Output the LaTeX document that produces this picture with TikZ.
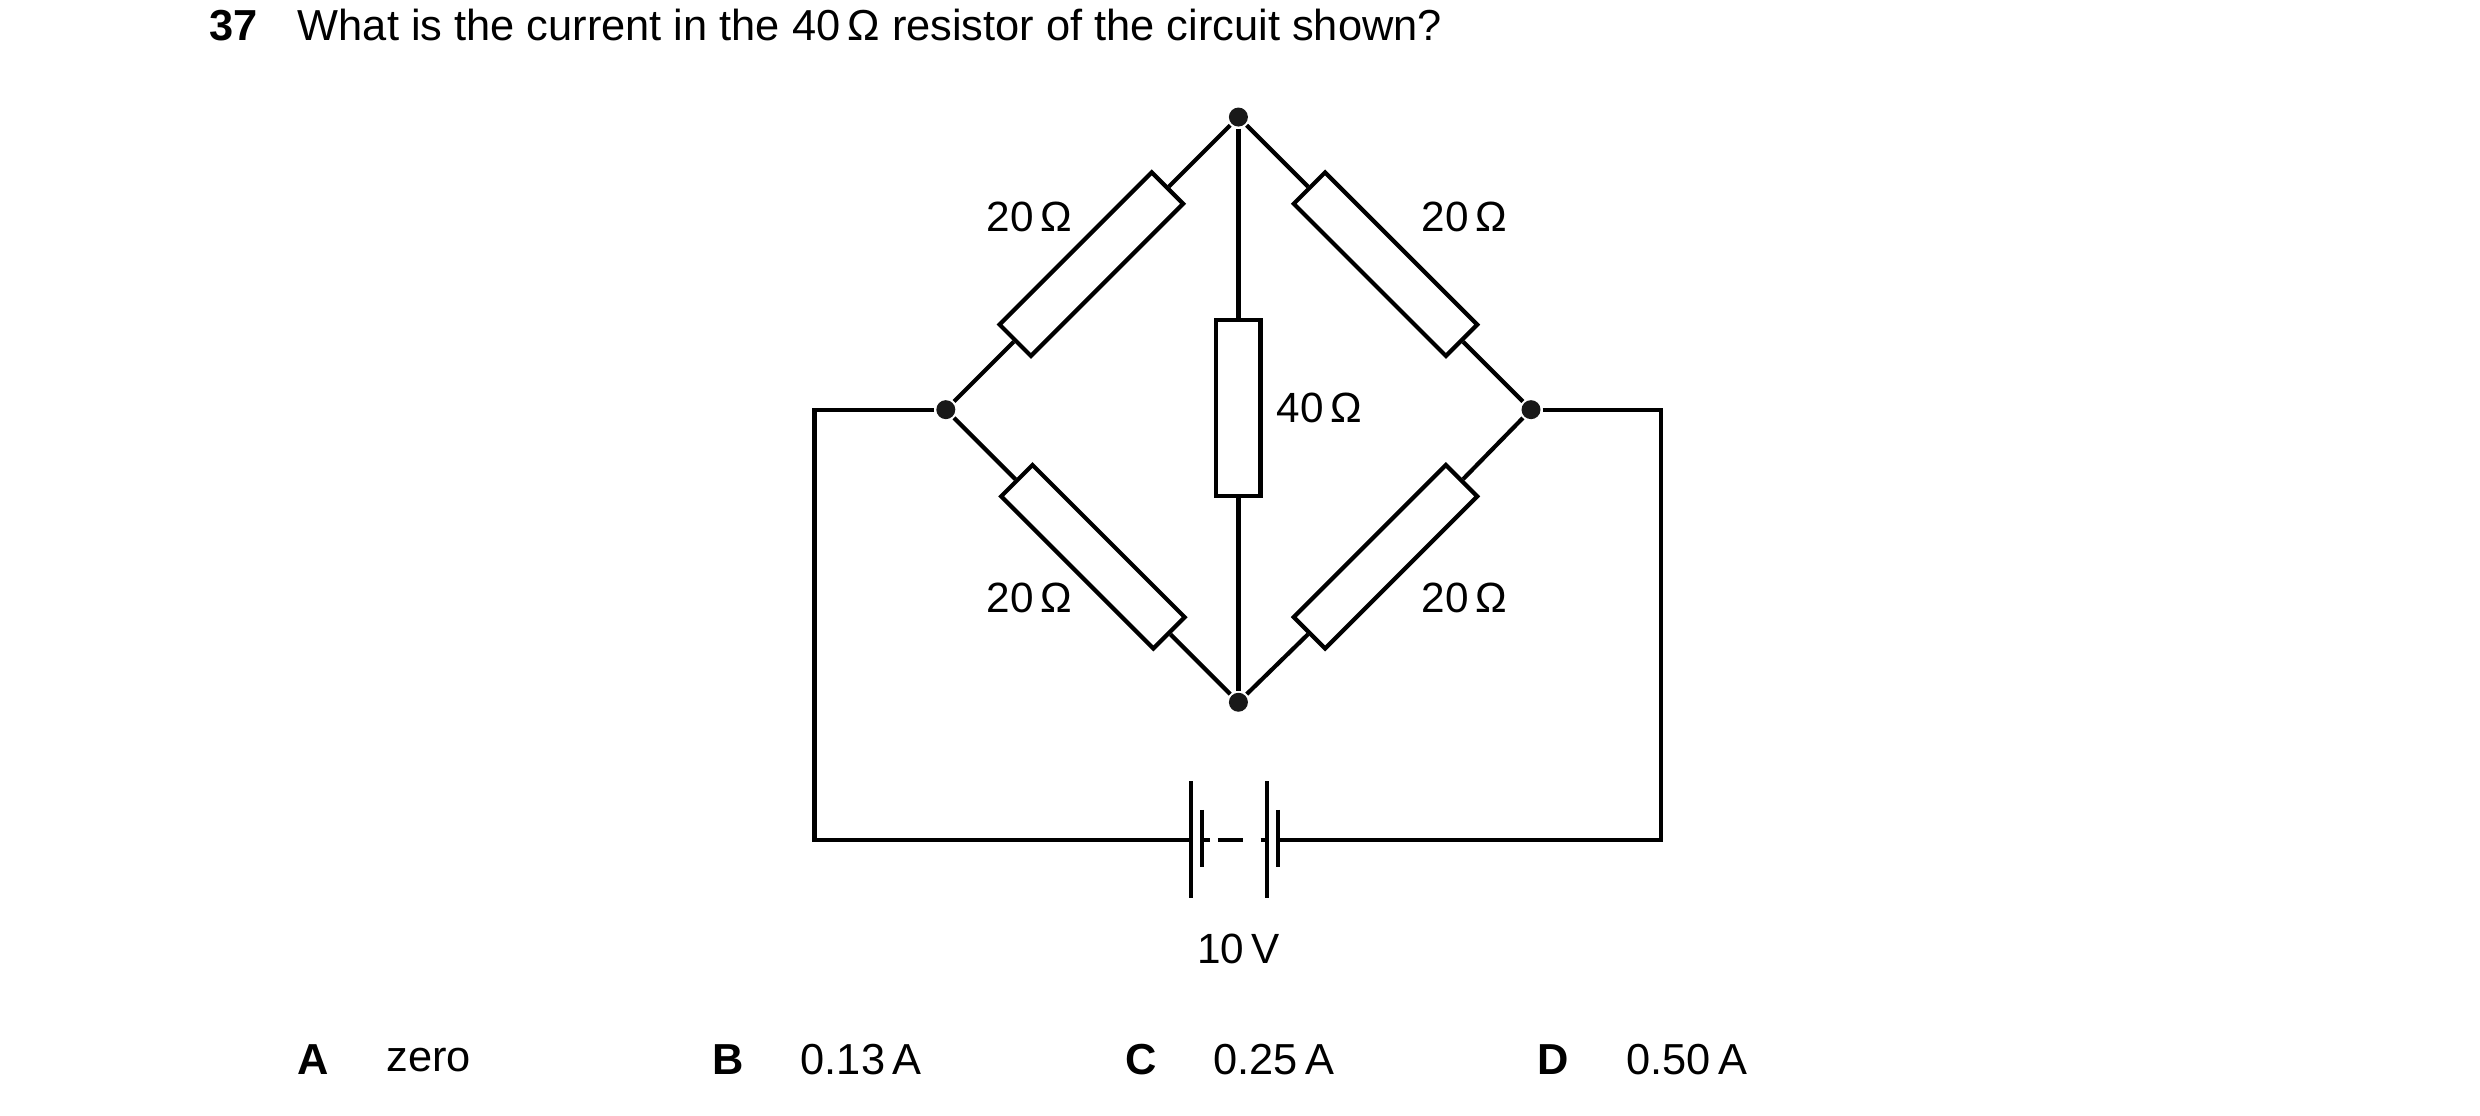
\documentclass[tikz,border=0pt]{standalone}
\usepackage{fontspec}
\setmainfont{Liberation Sans}
\begin{document}
\begin{tikzpicture}[x=0.01cm,y=-0.01cm,line width=0.75pt,
  res/.style={draw,fill=white,rectangle,minimum width=1.36cm,minimum height=0.28cm,inner sep=0pt},
  dot/.style={circle,fill=black!90,inner sep=0pt,minimum size=0.12cm},
  lab/.style={font=\fontsize{7.6pt}{9pt}\selectfont,inner sep=0pt},
  q/.style={font=\fontsize{7.8pt}{9pt}\selectfont,inner sep=0pt,anchor=west}]
\useasboundingbox (0,0) rectangle (1568,705);
\node[dot] (T) at (783,74) {};
\node[dot] (L) at (598,259) {};
\node[dot] (R) at (968,259) {};
\node[dot] (B) at (783,444) {};
\node[res,rotate=45] (r1) at (690,167) {};
\node[res,rotate=-45] (r2) at (876,167) {};
\node[res,rotate=-45] (r3) at (691,352) {};
\node[res,rotate=45] (r4) at (876,352) {};
\node[draw,fill=white,rectangle,minimum width=0.28cm,minimum height=1.11cm,inner sep=0pt] (r5) at (783,258) {};
\draw (L) -- (r1.west); \draw (r1.east) -- (T);
\draw (T) -- (r2.west); \draw (r2.east) -- (R);
\draw (L) -- (r3.west); \draw (r3.east) -- (B);
\draw (B) -- (r4.west); \draw (r4.east) -- (R);
\draw (T) -- (r5.north); \draw (r5.south) -- (B);
% battery
\coordinate (b1) at (753,531);
\coordinate (b4) at (808,531);
\draw (L) -- (515,259) -- (515,531) -- (b1);
\draw (R) -- (1050,259) -- (1050,531) -- (b4);
\draw (753,494) -- (753,568);
\draw (760,512) -- (760,548);
\draw (801,494) -- (801,568);
\draw (808,512) -- (808,548);
\draw (760,531) -- (765,531);
\draw[dash pattern=on 4.5 off 4.5] (770,531) -- (797,531);
\draw (797,531) -- (801,531);
% labels
\node[lab] at (651,137) {20\,Ω};
\node[lab] at (926,137) {20\,Ω};
\node[lab] at (651,378) {20\,Ω};
\node[lab] at (926,378) {20\,Ω};
\node[lab,anchor=west] at (806,258) {40\,Ω};
\node[lab] at (783,600) {10\,V};
\node[q] at (131,16) {\textbf{37}};
\node[q] at (187,16) {What is the current in the 40\,Ω resistor of the circuit shown?};
\node[q] at (187,670) {\textbf{A}}; \node[q] at (243,670) {zero};
\node[q] at (449,670) {\textbf{B}}; \node[q] at (505,670) {0.13\,A};
\node[q] at (710,670) {\textbf{C}}; \node[q] at (766,670) {0.25\,A};
\node[q] at (971,670) {\textbf{D}}; \node[q] at (1027,670) {0.50\,A};
\end{tikzpicture}
\end{document}
